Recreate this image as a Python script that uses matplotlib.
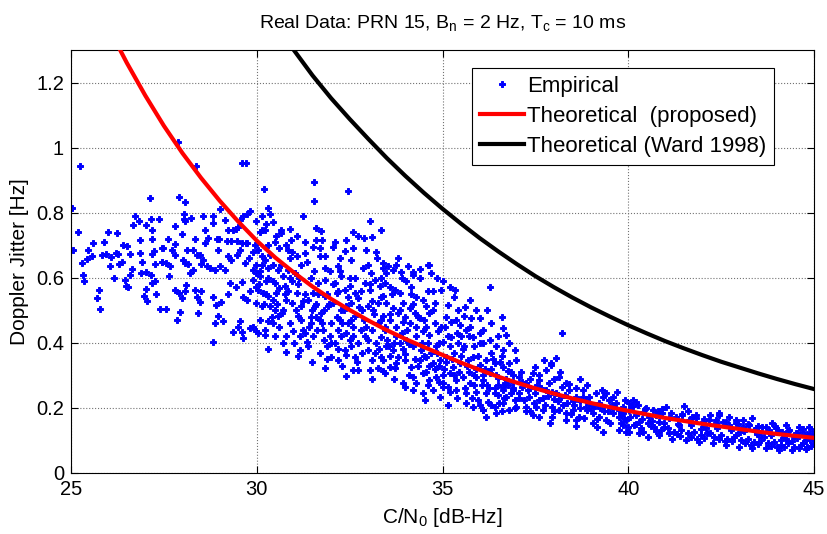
import numpy as np
import matplotlib
matplotlib.use("Agg")
import matplotlib.pyplot as plt

plt.rcParams['font.family'] = ['Liberation Sans', 'DejaVu Sans']
plt.rcParams['mathtext.fontset'] = 'custom'
plt.rcParams['mathtext.rm'] = 'Liberation Sans'
plt.rcParams['mathtext.it'] = 'Liberation Sans:italic'

# ---- theoretical curves ----
red_x = [26.3, 26.5, 27.0, 27.5, 28.0, 28.5, 29.0, 29.5, 30.0, 30.5, 31.0, 31.5,
         32.0, 32.5, 33.0, 33.5, 34.0, 34.5, 35.0, 35.5, 36.0, 36.5, 37.0, 37.5,
         38.0, 38.5, 39.0, 39.5, 40.0, 40.5, 41.0, 41.5, 42.0, 42.5, 43.0, 43.5,
         44.0, 44.5, 45.0]
red_y = [1.305, 1.261, 1.160, 1.067, 0.983, 0.907, 0.837, 0.773, 0.714, 0.662,
         0.616, 0.573, 0.535, 0.501, 0.469, 0.439, 0.412, 0.387, 0.363, 0.339,
         0.317, 0.296, 0.2775, 0.260, 0.244, 0.229, 0.215, 0.2025, 0.191, 0.180,
         0.169, 0.160, 0.151, 0.143, 0.135, 0.127, 0.120, 0.114, 0.108]

ward_x = [30.9, 31.5, 32.0, 32.5, 33.0, 33.5, 34.0, 34.5, 35.0, 35.5, 36.0, 36.5,
          37.0, 37.5, 38.0, 38.5, 39.0, 39.5, 40.0, 40.5, 41.0, 41.5, 42.0, 42.5,
          43.0, 43.5, 44.0, 44.5, 45.0]
ward_y = [1.315, 1.222, 1.152, 1.088, 1.027, 0.968, 0.913, 0.861, 0.812, 0.766,
          0.722, 0.681, 0.642, 0.605, 0.571, 0.539, 0.509, 0.481, 0.454, 0.429,
          0.405, 0.383, 0.362, 0.342, 0.324, 0.306, 0.289, 0.273, 0.258]

# ---- empirical points, by C/N0 region ----
emp_25_27 = [
    (25.24, 0.943), (25.04, 0.814), (25.20, 0.742), (25.06, 0.684), (25.30, 0.645),
    (25.31, 0.607), (25.35, 0.589), (25.42, 0.657), (25.45, 0.684), (25.57, 0.668),
    (25.60, 0.707), (25.75, 0.563), (25.69, 0.539), (25.79, 0.504), (25.84, 0.670),
    (25.88, 0.710), (25.93, 0.673), (26.00, 0.742), (26.05, 0.635), (26.09, 0.664),
    (26.16, 0.600), (26.21, 0.676), (26.24, 0.739), (26.27, 0.673), (26.30, 0.643),
    (26.38, 0.647), (26.41, 0.702), (26.50, 0.698), (26.45, 0.594), (26.47, 0.575),
    (26.54, 0.573), (26.58, 0.674), (26.58, 0.609), (26.63, 0.628), (26.68, 0.763),
    (26.72, 0.789), (26.83, 0.775), (26.85, 0.717), (26.85, 0.676), (26.88, 0.614),
    (26.92, 0.650), (26.97, 0.545), (27.01, 0.565), (27.02, 0.762), (27.05, 0.530),
    (27.03, 0.619), (27.13, 0.844), (27.14, 0.782), (27.17, 0.746), (27.19, 0.719),
    (27.17, 0.674), (27.15, 0.607), (27.19, 0.584), (27.26, 0.589), (27.28, 0.550),
    (27.24, 0.683), (27.37, 0.782), (27.26, 0.643), (27.39, 0.504), (27.46, 0.691),
    (27.44, 0.650),
]
emp_27_30 = [
    (27.88, 1.016), (28.36, 0.943), (29.60, 0.953), (29.70, 0.953), (27.91, 0.848),
    (28.06, 0.832), (29.00, 0.811), (28.04, 0.797), (27.80, 0.760), (28.04, 0.781),
    (28.22, 0.784), (28.06, 0.774), (28.56, 0.791), (28.81, 0.791), (28.60, 0.748),
    (28.83, 0.768), (29.14, 0.778), (29.23, 0.748), (29.45, 0.750), (29.55, 0.778),
    (29.63, 0.789), (29.74, 0.797), (29.81, 0.804), (27.62, 0.719), (27.80, 0.705),
    (28.00, 0.735), (27.48, 0.691), (27.73, 0.686), (27.80, 0.671), (28.33, 0.719),
    (28.29, 0.686), (28.38, 0.671), (28.69, 0.722), (28.92, 0.719), (28.99, 0.719),
    (28.60, 0.707), (28.96, 0.686), (29.19, 0.712), (29.32, 0.712), (29.47, 0.712),
    (29.59, 0.707), (29.74, 0.707), (29.36, 0.748), (29.50, 0.756), (27.44, 0.650),
    (27.57, 0.645), (27.66, 0.635), (28.02, 0.655), (28.06, 0.645), (28.11, 0.686),
    (28.47, 0.671), (28.56, 0.655), (28.49, 0.643), (28.65, 0.635), (28.20, 0.614),
    (28.29, 0.625), (28.15, 0.643), (28.74, 0.630), (28.87, 0.623), (29.00, 0.635),
    (29.14, 0.625), (29.23, 0.666), (29.32, 0.655), (29.47, 0.671), (29.54, 0.686),
    (29.70, 0.707), (29.68, 0.645), (29.79, 0.661), (29.90, 0.625), (29.99, 0.614),
    (27.64, 0.604), (27.80, 0.563), (27.91, 0.553), (27.98, 0.538), (28.09, 0.578),
    (28.06, 0.558), (28.33, 0.563), (28.38, 0.542), (28.47, 0.524), (28.51, 0.558),
    (28.83, 0.542), (28.90, 0.517), (29.05, 0.524), (29.23, 0.551), (29.29, 0.584),
    (29.45, 0.573), (29.59, 0.586), (29.63, 0.542), (29.74, 0.532), (29.81, 0.558),
    (29.90, 0.594), (29.99, 0.573), (27.55, 0.504), (27.93, 0.496), (27.84, 0.471),
    (28.42, 0.491), (28.96, 0.483), (29.10, 0.466), (28.87, 0.460), (29.54, 0.466),
    (29.50, 0.450), (29.36, 0.432), (29.59, 0.432), (29.81, 0.445), (29.90, 0.450),
    (29.63, 0.414), (28.81, 0.404),
]
emp_30_33 = [
    (31.54, 0.894), (31.54, 0.835), (32.45, 0.868), (30.20, 0.874), (30.29, 0.814),
    (30.35, 0.796), (31.25, 0.789), (33.04, 0.773), (33.35, 0.746), (29.99, 0.773),
    (30.26, 0.766), (30.22, 0.748), (30.14, 0.748), (30.66, 0.748), (30.53, 0.729),
    (30.65, 0.738), (31.59, 0.753), (31.74, 0.743), (31.60, 0.717), (31.76, 0.717),
    (32.41, 0.715), (32.72, 0.729), (32.90, 0.722), (33.10, 0.725), (31.07, 0.729),
    (30.93, 0.717), (30.80, 0.702), (30.84, 0.686), (31.09, 0.666), (31.29, 0.676),
    (31.51, 0.696), (31.69, 0.666), (31.83, 0.666), (32.05, 0.696), (32.23, 0.661),
    (32.37, 0.681), (32.59, 0.691), (32.54, 0.655), (32.95, 0.686), (33.00, 0.640),
    (33.08, 0.614), (33.40, 0.630), (30.04, 0.686), (30.13, 0.666), (30.22, 0.656),
    (29.99, 0.640), (30.31, 0.630), (30.08, 0.604), (30.26, 0.589), (30.04, 0.563),
    (30.17, 0.553), (30.31, 0.543), (30.44, 0.532), (29.99, 0.522), (30.13, 0.512),
    (30.35, 0.512), (30.49, 0.502), (30.08, 0.471), (30.31, 0.466), (30.22, 0.440),
    (30.44, 0.461), (29.99, 0.435), (30.58, 0.481), (30.67, 0.491), (30.53, 0.553),
    (30.76, 0.574), (30.71, 0.604), (30.94, 0.589), (31.03, 0.614), (30.85, 0.625),
    (30.58, 0.625), (30.49, 0.584), (30.80, 0.532), (31.07, 0.553), (30.94, 0.522),
    (31.20, 0.512), (31.11, 0.481), (30.89, 0.461), (30.98, 0.435), (31.25, 0.440),
    (31.16, 0.420), (31.34, 0.404), (31.38, 0.389), (31.52, 0.420), (31.61, 0.440),
    (31.47, 0.461), (31.70, 0.471), (31.74, 0.491), (31.56, 0.512), (31.38, 0.532),
    (31.52, 0.553), (31.83, 0.543), (31.92, 0.512), (32.06, 0.522), (32.15, 0.553),
    (32.10, 0.584), (32.28, 0.604), (32.37, 0.563), (32.50, 0.574), (32.64, 0.553),
    (32.73, 0.538), (32.55, 0.522), (32.41, 0.512), (32.28, 0.502), (32.23, 0.471),
    (32.46, 0.461), (32.64, 0.481), (32.82, 0.502), (33.00, 0.512), (33.13, 0.502),
    (33.27, 0.522), (33.40, 0.543), (33.31, 0.574), (33.04, 0.563), (32.91, 0.584),
    (33.18, 0.594), (31.83, 0.594), (31.65, 0.584), (31.97, 0.620), (32.19, 0.635),
    (31.97, 0.420), (31.88, 0.389), (32.10, 0.399), (32.28, 0.420), (32.37, 0.379),
    (32.55, 0.389), (32.73, 0.399), (32.91, 0.420), (33.09, 0.440), (33.27, 0.461),
    (33.40, 0.481), (31.79, 0.440), (31.70, 0.368), (32.01, 0.358), (32.19, 0.348),
    (32.41, 0.363), (32.64, 0.358), (32.82, 0.368), (33.00, 0.379), (33.18, 0.368),
    (33.35, 0.358), (33.09, 0.348), (31.83, 0.322), (32.41, 0.297), (32.59, 0.317),
    (32.73, 0.317), (33.04, 0.317), (33.27, 0.322), (33.40, 0.312), (30.80, 0.373),
    (31.16, 0.379), (30.04, 0.430), (30.22, 0.425),
    (30.10, 0.620), (30.30, 0.600), (30.45, 0.640), (30.60, 0.570), (30.75, 0.550),
    (30.90, 0.600), (31.10, 0.580), (31.30, 0.550), (31.45, 0.600), (31.60, 0.520),
    (31.80, 0.500), (32.00, 0.460), (32.20, 0.440), (32.40, 0.430), (32.60, 0.450),
    (32.80, 0.440), (33.00, 0.410), (33.20, 0.400), (30.20, 0.520), (30.40, 0.480),
    (30.60, 0.450), (30.80, 0.420), (31.00, 0.400), (31.20, 0.470), (31.40, 0.450),
    (31.60, 0.480), (32.00, 0.400), (32.30, 0.460), (32.50, 0.410), (32.90, 0.470),
    (33.10, 0.530), (32.80, 0.560), (32.50, 0.600), (32.20, 0.560), (31.90, 0.550),
    (31.50, 0.500), (31.20, 0.640), (30.90, 0.660), (30.60, 0.690), (30.30, 0.700),
    (30.05, 0.580), (30.15, 0.640), (30.25, 0.550), (30.35, 0.670), (30.45, 0.590),
    (30.55, 0.520), (30.65, 0.640), (30.70, 0.500), (30.85, 0.560), (30.95, 0.680),
    (31.05, 0.500), (31.15, 0.600), (31.25, 0.530), (31.35, 0.650), (31.45, 0.480),
    (31.55, 0.620), (31.65, 0.550), (31.75, 0.460), (31.85, 0.630), (31.95, 0.520),
    (32.05, 0.580), (32.15, 0.480), (32.25, 0.620), (32.35, 0.500), (32.45, 0.540),
    (32.55, 0.470), (32.65, 0.600), (32.75, 0.510), (32.85, 0.630), (32.95, 0.450),
    (33.05, 0.580), (33.15, 0.490), (33.25, 0.660), (33.35, 0.470), (30.10, 0.740),
    (30.50, 0.710), (30.90, 0.750), (31.30, 0.710), (31.70, 0.690), (32.10, 0.710),
    (32.60, 0.740), (33.20, 0.680), (30.70, 0.400), (31.10, 0.360), (31.50, 0.340),
    (31.90, 0.350), (32.30, 0.330), (32.70, 0.340), (33.10, 0.290), (30.30, 0.380),
    (30.50, 0.420), (31.30, 0.430), (31.80, 0.410), (32.20, 0.380), (32.60, 0.420),
    (33.30, 0.380), (30.15, 0.790), (30.45, 0.770), (29.95, 0.700), (29.90, 0.680),
]
emp_33_37 = [
    (33.40, 0.645), (33.53, 0.635), (33.67, 0.624), (33.49, 0.614), (33.35, 0.599),
    (33.76, 0.640), (33.89, 0.619), (34.07, 0.637), (34.21, 0.619), (34.39, 0.627),
    (34.65, 0.640), (34.70, 0.614), (33.44, 0.583), (33.58, 0.573), (33.71, 0.563),
    (33.85, 0.553), (34.03, 0.589), (34.16, 0.573), (34.30, 0.542), (34.47, 0.532),
    (33.35, 0.542), (33.49, 0.522), (33.67, 0.507), (33.80, 0.491), (33.94, 0.522),
    (34.12, 0.507), (34.25, 0.491), (34.39, 0.476), (34.56, 0.512), (34.65, 0.491),
    (34.79, 0.522), (34.97, 0.563), (34.74, 0.558), (35.19, 0.573), (35.33, 0.563),
    (35.15, 0.517), (35.42, 0.501), (35.73, 0.532), (35.59, 0.481), (35.77, 0.476),
    (36.00, 0.476), (36.27, 0.573), (36.31, 0.460), (36.63, 0.445), (36.72, 0.424),
    (36.00, 0.430), (35.82, 0.419), (35.64, 0.440), (35.46, 0.455), (35.24, 0.465),
    (35.06, 0.450), (34.88, 0.435), (34.65, 0.424), (34.47, 0.435), (34.30, 0.450),
    (34.12, 0.460), (33.94, 0.465), (33.76, 0.450), (33.58, 0.471), (33.44, 0.440),
    (33.35, 0.419), (33.49, 0.389), (33.67, 0.378), (33.85, 0.399), (34.03, 0.409),
    (34.21, 0.389), (34.43, 0.378), (34.61, 0.399), (34.83, 0.389), (35.01, 0.404),
    (35.24, 0.419), (35.42, 0.399), (35.59, 0.389), (35.86, 0.389), (36.09, 0.399),
    (36.27, 0.409), (36.45, 0.389), (36.63, 0.378), (36.80, 0.399), (36.94, 0.378),
    (33.40, 0.348), (33.58, 0.327), (33.76, 0.337), (33.98, 0.348), (34.16, 0.327),
    (34.39, 0.348), (34.56, 0.358), (34.74, 0.337), (34.92, 0.348), (35.10, 0.358),
    (35.28, 0.327), (35.46, 0.337), (35.68, 0.348), (35.82, 0.358), (36.00, 0.332),
    (36.18, 0.348), (36.40, 0.337), (36.63, 0.327), (36.80, 0.337), (36.98, 0.348),
    (33.44, 0.307), (33.71, 0.322), (33.94, 0.276), (34.21, 0.296), (34.30, 0.276),
    (34.47, 0.307), (34.65, 0.286), (34.83, 0.296), (35.01, 0.276), (35.19, 0.307),
    (35.37, 0.286), (35.55, 0.296), (35.73, 0.276), (35.91, 0.296), (36.09, 0.286),
    (36.27, 0.307), (36.49, 0.291), (36.67, 0.276), (36.89, 0.281), (33.98, 0.265),
    (34.21, 0.255), (34.47, 0.245), (34.74, 0.255), (34.92, 0.235), (35.15, 0.265),
    (35.37, 0.255), (35.64, 0.245), (35.91, 0.250), (36.18, 0.245), (36.40, 0.260),
    (36.63, 0.255), (36.85, 0.245), (34.52, 0.224), (35.15, 0.209), (35.64, 0.214),
    (36.09, 0.194), (36.40, 0.204), (36.63, 0.214), (36.94, 0.224), (35.01, 0.265),
    (35.14, 0.209), (34.62, 0.640), (38.23, 0.431),
    (33.50, 0.410), (33.70, 0.400), (33.90, 0.430), (34.10, 0.395), (34.30, 0.420),
    (34.50, 0.360), (34.70, 0.370), (34.90, 0.330), (35.10, 0.340), (35.30, 0.370),
    (35.50, 0.360), (35.70, 0.310), (35.90, 0.320), (36.10, 0.300), (36.30, 0.320),
    (36.50, 0.270), (36.70, 0.290), (36.90, 0.260), (33.60, 0.360), (33.80, 0.355),
    (34.00, 0.365), (34.35, 0.330), (34.55, 0.310), (34.80, 0.320), (35.00, 0.300),
    (35.30, 0.300), (35.60, 0.260), (35.85, 0.270), (36.20, 0.270), (36.50, 0.240),
    (34.20, 0.520), (34.50, 0.470), (34.80, 0.460), (35.10, 0.480), (35.40, 0.430),
    (35.70, 0.420), (36.00, 0.400), (36.30, 0.370), (36.60, 0.360), (34.00, 0.480),
    (33.60, 0.490), (34.90, 0.400), (35.20, 0.390), (35.50, 0.420), (36.10, 0.440),
    (36.50, 0.420), (35.90, 0.500), (34.60, 0.560), (33.90, 0.600), (34.40, 0.600),
    (33.45, 0.450), (33.55, 0.390), (33.65, 0.550), (33.75, 0.420), (33.85, 0.500),
    (33.95, 0.380), (34.05, 0.440), (34.15, 0.550), (34.25, 0.350), (34.35, 0.480),
    (34.45, 0.400), (34.55, 0.450), (34.65, 0.330), (34.75, 0.500), (34.85, 0.370),
    (34.95, 0.450), (35.05, 0.320), (35.15, 0.420), (35.25, 0.350), (35.35, 0.470),
    (35.45, 0.310), (35.55, 0.380), (35.65, 0.330), (35.75, 0.450), (35.85, 0.300),
    (35.95, 0.360), (36.05, 0.270), (36.15, 0.320), (36.25, 0.260), (36.35, 0.350),
    (36.45, 0.300), (36.55, 0.340), (36.65, 0.230), (36.75, 0.270), (36.85, 0.310),
    (34.10, 0.300), (34.60, 0.270), (35.20, 0.250), (35.80, 0.230), (36.30, 0.210),
    (33.70, 0.290), (34.90, 0.280), (35.40, 0.230), (36.00, 0.210), (36.60, 0.190),
    (34.20, 0.610), (34.85, 0.600), (35.30, 0.540), (35.60, 0.510), (36.20, 0.500),
    (36.60, 0.480), (33.80, 0.660), (35.00, 0.590),
]
emp_37_40 = [
    (37.07, 0.296), (37.25, 0.276), (37.43, 0.307), (37.61, 0.286), (37.79, 0.255),
    (37.07, 0.245), (37.34, 0.235), (37.61, 0.224), (37.87, 0.276), (38.05, 0.245),
    (38.23, 0.265), (38.41, 0.255), (38.59, 0.235), (38.77, 0.255), (38.95, 0.235),
    (39.13, 0.245), (39.31, 0.235), (39.49, 0.224), (39.67, 0.214), (39.85, 0.204),
    (37.96, 0.204), (38.14, 0.194), (38.32, 0.183), (38.50, 0.194), (38.68, 0.173),
    (38.86, 0.204), (39.04, 0.183), (39.22, 0.173), (39.40, 0.163), (39.58, 0.183),
    (39.76, 0.173), (39.94, 0.163), (37.70, 0.194), (37.52, 0.204), (37.79, 0.317),
    (37.92, 0.332), (38.14, 0.296), (38.32, 0.276), (38.59, 0.260), (38.77, 0.235),
    (38.95, 0.214), (39.40, 0.245), (39.71, 0.250), (40.03, 0.214), (39.31, 0.127),
    (39.76, 0.132), (40.03, 0.127), (39.04, 0.153), (38.59, 0.163), (38.32, 0.163),
    (37.96, 0.173), (37.61, 0.173), (37.43, 0.178), (37.25, 0.204), (36.89, 0.255),
    (36.71, 0.235), (36.53, 0.214), (36.62, 0.265), (36.98, 0.204), (36.80, 0.194),
    (36.44, 0.183), (36.17, 0.173), (36.08, 0.194), (35.81, 0.204), (35.95, 0.224),
    (36.22, 0.219), (36.40, 0.245), (38.06, 0.353), (37.74, 0.348), (37.92, 0.338),
    (37.15, 0.265), (37.30, 0.255), (37.50, 0.245), (37.65, 0.262), (37.85, 0.238),
    (38.00, 0.228), (38.20, 0.235), (38.35, 0.215), (38.55, 0.210), (38.70, 0.220),
    (38.90, 0.195), (39.10, 0.205), (39.25, 0.200), (39.45, 0.190), (39.60, 0.200),
    (39.80, 0.185), (37.20, 0.225), (37.45, 0.215), (37.75, 0.210), (38.00, 0.190),
    (38.25, 0.210), (38.45, 0.180), (38.80, 0.170), (39.15, 0.165), (39.50, 0.155),
    (39.85, 0.148), (37.10, 0.310), (37.35, 0.290), (37.60, 0.300), (38.00, 0.290),
    (38.40, 0.275), (38.90, 0.270), (39.30, 0.255), (39.60, 0.235), (37.90, 0.155),
    (38.60, 0.145), (39.15, 0.140), (37.35, 0.190), (36.90, 0.300), (36.75, 0.315),
    (37.50, 0.325), (38.15, 0.310), (38.70, 0.290), (39.90, 0.225),
    (36.95, 0.200), (37.05, 0.230), (37.15, 0.280), (37.25, 0.190), (37.35, 0.260),
    (37.55, 0.270), (37.70, 0.230), (37.95, 0.250), (38.10, 0.220), (38.30, 0.240),
    (38.50, 0.220), (38.70, 0.200), (38.85, 0.225), (39.00, 0.200), (39.20, 0.215),
    (39.35, 0.190), (39.55, 0.210), (39.75, 0.195),
]
emp_40_45 = [
    (39.85, 0.183), (40.03, 0.194), (40.21, 0.178), (40.39, 0.188), (40.57, 0.173),
    (40.75, 0.178), (40.92, 0.183), (41.10, 0.168), (41.28, 0.173), (41.46, 0.178),
    (41.64, 0.163), (41.82, 0.168), (42.00, 0.158), (42.18, 0.163), (42.36, 0.153),
    (42.54, 0.158), (42.72, 0.147), (42.90, 0.153), (43.08, 0.142), (43.25, 0.147),
    (43.43, 0.137), (43.61, 0.142), (43.79, 0.132), (43.97, 0.137), (44.15, 0.127),
    (44.33, 0.132), (44.51, 0.122), (44.69, 0.127), (44.87, 0.117), (44.96, 0.111),
    (39.80, 0.153), (39.98, 0.142), (40.16, 0.147), (40.34, 0.137), (40.52, 0.153),
    (40.70, 0.142), (40.88, 0.132), (41.06, 0.137), (41.24, 0.127), (41.42, 0.132),
    (41.60, 0.122), (41.78, 0.127), (41.96, 0.117), (42.13, 0.122), (42.31, 0.111),
    (42.49, 0.117), (42.67, 0.106), (42.85, 0.111), (43.03, 0.101), (43.21, 0.106),
    (43.39, 0.096), (43.57, 0.101), (43.75, 0.091), (43.93, 0.096), (44.11, 0.086),
    (44.29, 0.091), (44.46, 0.081), (44.64, 0.086), (44.82, 0.081), (44.96, 0.091),
    (39.94, 0.127), (40.30, 0.122), (40.52, 0.111), (40.84, 0.117), (41.19, 0.106),
    (41.55, 0.101), (41.91, 0.096), (42.27, 0.091), (42.63, 0.086), (42.99, 0.081),
    (43.34, 0.076), (43.70, 0.076), (44.06, 0.070), (44.42, 0.070), (44.78, 0.073),
    (40.07, 0.204), (40.25, 0.209), (40.48, 0.199), (40.66, 0.194), (41.01, 0.204),
    (41.51, 0.206), (41.82, 0.178), (42.45, 0.178), (42.72, 0.173), (42.90, 0.163),
    (43.34, 0.168), (43.88, 0.153), (44.24, 0.147), (44.60, 0.142), (44.87, 0.142),
    (42.45, 0.183), (39.89, 0.168), (40.84, 0.158), (41.37, 0.147), (42.09, 0.137),
    (43.01, 0.127), (43.52, 0.117), (44.24, 0.106), (44.78, 0.101), (40.12, 0.224),
    (40.21, 0.219),
    (40.12, 0.205), (40.44, 0.196), (40.80, 0.190), (41.15, 0.184), (41.45, 0.180),
    (41.72, 0.172), (42.05, 0.167), (42.35, 0.163), (42.63, 0.158), (42.95, 0.152),
    (43.22, 0.150), (43.48, 0.144), (43.72, 0.140), (44.02, 0.133), (44.30, 0.130),
    (44.55, 0.124), (44.80, 0.120), (40.05, 0.172), (40.37, 0.166), (40.64, 0.160),
    (40.97, 0.155), (41.33, 0.152), (41.69, 0.146), (42.03, 0.143), (42.40, 0.138),
    (42.76, 0.133), (43.12, 0.128), (43.46, 0.121), (43.84, 0.117), (44.18, 0.112),
    (44.54, 0.108), (44.90, 0.102), (40.20, 0.152), (40.60, 0.145), (40.95, 0.140),
    (41.30, 0.120), (41.70, 0.112), (42.05, 0.108), (42.45, 0.103), (42.80, 0.098),
    (43.15, 0.093), (43.50, 0.088), (43.85, 0.083), (44.20, 0.081), (44.60, 0.078),
    (44.92, 0.083), (41.10, 0.122), (41.85, 0.106), (42.60, 0.098), (43.30, 0.086),
    (44.00, 0.079), (44.70, 0.092), (40.40, 0.125), (40.75, 0.128), (41.40, 0.115),
    (42.20, 0.124), (42.90, 0.118), (43.65, 0.110), (44.40, 0.098), (44.95, 0.130),
    (44.70, 0.135), (44.45, 0.115), (43.95, 0.145), (43.10, 0.162), (42.20, 0.178),
    (41.60, 0.192), (40.90, 0.198), (41.95, 0.134), (43.40, 0.133), (44.10, 0.100),
    (44.85, 0.107), (40.30, 0.157),
]

emp = np.array(emp_25_27 + emp_27_30 + emp_30_33 + emp_33_37 + emp_37_40 + emp_40_45)

x_ticks = [25, 30, 35, 40, 45]
y_ticks = [0, 0.2, 0.4, 0.6, 0.8, 1.0, 1.2]
y_ticklabels = ['0', '0.2', '0.4', '0.6', '0.8', '1', '1.2']

fig = plt.figure(figsize=(8.27, 5.34), dpi=100)
ax = fig.add_axes([71/827, 61/534, 743/827, 423/534])

ax.plot(emp[:, 0], emp[:, 1], linestyle='none', marker='P', markersize=4.6,
        color='#0000ff', markeredgecolor='#0000ff', markeredgewidth=0.7,
        label='Empirical', zorder=2)
ax.plot(red_x, red_y, color='#ff0000', lw=3, label='Theoretical  (proposed)', zorder=3)
ax.plot(ward_x, ward_y, color='black', lw=3, label='Theoretical (Ward 1998)', zorder=3)

ax.set_xlim(25, 45)
ax.set_ylim(0, 1.3)
ax.set_xticks(x_ticks)
ax.set_yticks(y_ticks)
ax.set_yticklabels(y_ticklabels)
ax.tick_params(direction='in', top=True, right=True, labelsize=14.5, length=5,
               width=0.8, pad=5)
ax.grid(True, linestyle=':', color='0.45', linewidth=0.8)
for s in ax.spines.values():
    s.set_linewidth(0.8)

ax.set_title(r'Real Data: PRN 15, B$_{\mathrm{n}}$ = 2 Hz, T$_{\mathrm{c}}$ = 10 ms',
             fontsize=14, pad=16)
ax.set_xlabel(r'C/N$_{\mathrm{0}}$ [dB-Hz]', fontsize=15, labelpad=5)
ax.set_ylabel('Doppler Jitter [Hz]', fontsize=15, labelpad=5)

leg = ax.legend(loc='upper right', bbox_to_anchor=(0.946, 0.957), borderaxespad=0,
                fontsize=16, fancybox=False, edgecolor='black', framealpha=1,
                handlelength=1.95, handletextpad=0.15, borderpad=0.35,
                labelspacing=0.4, markerscale=0.8)
leg.get_frame().set_linewidth(0.8)

fig.savefig('out.png', dpi=100)
